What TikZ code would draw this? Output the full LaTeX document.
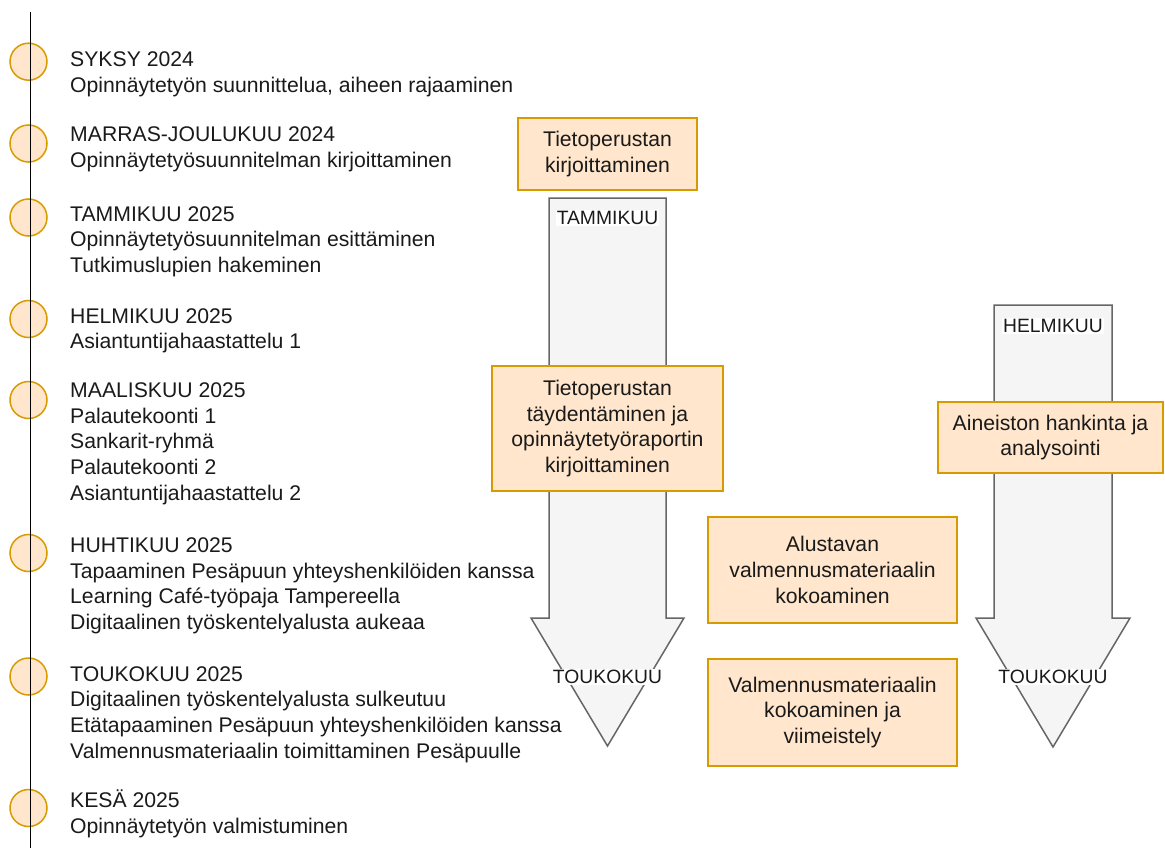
\documentclass[tikz,border=0pt]{standalone}
\usepackage{fontspec}
\setmainfont{Liberation Sans}
\definecolor{tlorange}{HTML}{D79B00}
\definecolor{tlfill}{HTML}{FFE6CC}
\definecolor{arrowgray}{HTML}{666666}
\definecolor{arrowfill}{HTML}{F5F5F5}
\definecolor{txt}{HTML}{1A1A1A}
\newcommand\mainfs{\fontsize{21.2}{25.6}\selectfont}
\newcommand\lblfs{\fontsize{19.3}{22}\selectfont}
\tikzset{
  tlcircle/.style={circle, draw=tlorange, fill=tlfill, line width=1.5pt, minimum size=37pt, inner sep=0pt},
  evt/.style={anchor=north west, align=left, inner sep=0pt, font=\mainfs, text=txt},
  taskbox/.style={draw=tlorange, fill=tlfill, line width=1.5pt, align=center, inner sep=0pt, font=\mainfs, text=txt},
  blockarrow/.style={draw=arrowgray, fill=arrowfill, line width=1.5pt, line join=miter},
  mlabel/.style={fill=white, inner sep=1pt, font=\lblfs, text=txt},
  timeline/.style={draw=black, line width=1.8pt}
}
\begin{document}
\begin{tikzpicture}[x=1pt, y=-1pt]
\useasboundingbox (0,0) rectangle (1165,848);
% circles
\node[tlcircle] (c1) at (28.5,61.7) {};
\node[tlcircle] (c2) at (28.5,143.5) {};
\node[tlcircle] (c3) at (28.5,217.5) {};
\node[tlcircle] (c4) at (28.5,319) {};
\node[tlcircle] (c5) at (28.5,400) {};
\node[tlcircle] (c6) at (28.5,553) {};
\node[tlcircle] (c7) at (28.5,676.5) {};
\node[tlcircle] (c8) at (28.5,808) {};
% timeline
\coordinate (ltop) at (30.5,12);
\coordinate (lbot) at (30.5,848);
\draw[timeline] (ltop) -- (lbot);
% events
\node[evt] (e1) at (70,48.3) {\strut SYKSY 2024\\Opinnäytetyön suunnittelua, aiheen rajaaminen};
\node[evt] (e2) at (70,123.6) {\strut MARRAS-JOULUKUU 2024\\Opinnäytetyösuunnitelman kirjoittaminen};
\node[evt] (e3) at (70,202.9) {\strut TAMMIKUU 2025\\Opinnäytetyösuunnitelman esittäminen\\Tutkimuslupien hakeminen};
\node[evt] (e4) at (70,305.1) {\strut HELMIKUU 2025\\Asiantuntijahaastattelu 1};
\node[evt] (e5) at (70,379.6) {\strut MAALISKUU 2025\\Palautekoonti 1\\Sankarit-ryhmä\\Palautekoonti 2\\Asiantuntijahaastattelu 2};
\node[evt] (e6) at (70,534.6) {\strut HUHTIKUU 2025\\Tapaaminen Pesäpuun yhteyshenkilöiden kanssa\\Learning Café-työpaja Tampereella\\Digitaalinen työskentelyalusta aukeaa};
\node[evt] (e7) at (70,663.1) {\strut TOUKOKUU 2025\\Digitaalinen työskentelyalusta sulkeutuu\\Etätapaaminen Pesäpuun yhteyshenkilöiden kanssa\\Valmennusmateriaalin toimittaminen Pesäpuulle};
\node[evt] (e8) at (70,789.6) {\strut KESÄ 2025\\Opinnäytetyön valmistuminen};
% block arrows
\draw[blockarrow] (549,198) -- (666,198) -- (666,618) -- (684,618) -- (607.5,746) -- (531,618) -- (549,618) -- cycle;
\draw[blockarrow] (994,305) -- (1112,305) -- (1112,618) -- (1130,618) -- (1053,747) -- (976,618) -- (994,618) -- cycle;
\node[mlabel] (a1top) at (607.5,218) {TAMMIKUU};
\node[mlabel] (a1bot) at (607.5,677) {TOUKOKUU};
\node[mlabel] (a2top) at (1053,326) {HELMIKUU};
\node[mlabel] (a2bot) at (1053,677) {TOUKOKUU};
% task boxes
\node[taskbox, minimum width=179pt, minimum height=72pt] (b1) at (607.5,154) {Tietoperustan\\kirjoittaminen};
\node[taskbox, minimum width=231pt, minimum height=125pt] (b2) at (607.5,428.5) {Tietoperustan\\täydentäminen ja\\opinnäytetyöraportin\\kirjoittaminen};
\node[taskbox, minimum width=249pt, minimum height=106pt] (b3) at (832.5,570) {Alustavan\\valmennusmateriaalin\\kokoaminen};
\node[taskbox, minimum width=249pt, minimum height=107pt] (b4) at (832.5,712.5) {Valmennusmateriaalin\\kokoaminen ja\\viimeistely};
\node[taskbox, minimum width=225pt, minimum height=71pt] (b5) at (1050.5,437.5) {Aineiston hankinta ja\\analysointi};
\end{tikzpicture}
\end{document}
